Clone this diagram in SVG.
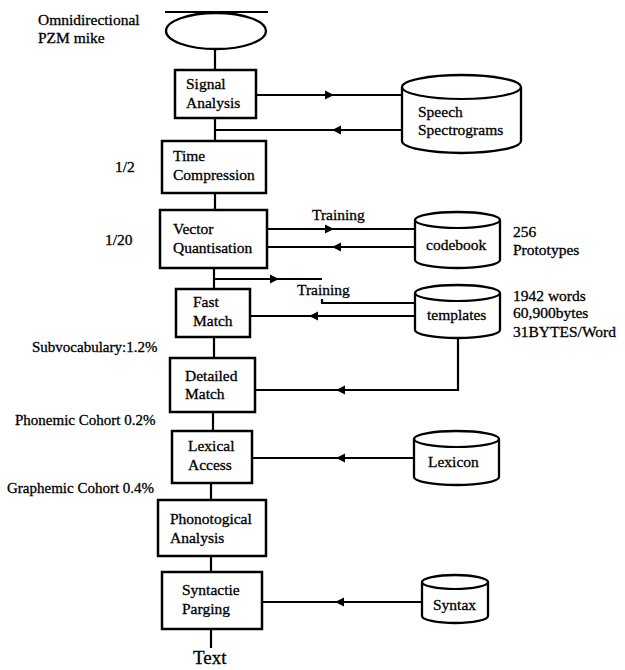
<svg xmlns="http://www.w3.org/2000/svg" width="625" height="670" viewBox="0 0 625 670">
  <style>
    .box { fill: #fff; stroke: #000; stroke-width: 2.5; }
    .db { fill: #fff; stroke: #000; stroke-width: 2.3; }
    .ln { fill: none; stroke: #000; stroke-width: 2.2; }
    text { font-family: "Liberation Serif", "Times New Roman", serif; font-size: 15.5px; fill: #000; stroke: #000; stroke-width: 0.3; }
    .note { font-size: 15px; }
  </style>
  <defs>
    <marker id="ah" viewBox="0 0 10 10" refX="9" refY="5" markerWidth="9" markerHeight="10" markerUnits="userSpaceOnUse" orient="auto">
      <path d="M0,0 L10,5 L0,10 Z" fill="#000" stroke="none"/>
    </marker>
  </defs>

  <rect width="625" height="670" fill="#fff"/>

  <!-- connectors -->
  <g id="connectors">
    <!-- main processing spine -->
    <path class="ln" d="M215,49 V70 M215,118 V141 M215,193 V210 M214,268 V289 M214,337 V358 M213,412 V431 M211,483 V500 M211,556 V572 M211,629 V648"/>
    <!-- signal analysis <-> spectrograms -->
    <path class="ln" d="M256,95 L333,95 L402,95" marker-mid="url(#ah)"/>
    <path class="ln" d="M402,130 L333,130 L215,130" marker-mid="url(#ah)"/>
    <!-- vector quantisation <-> codebook -->
    <path class="ln" d="M267,229 L333,229 L415,229" marker-mid="url(#ah)"/>
    <path class="ln" d="M415,247 L333,247 L267,247" marker-mid="url(#ah)"/>
    <!-- training feed to templates -->
    <path class="ln" d="M214,279 L278,279 L322,279" marker-mid="url(#ah)"/>
    <path class="ln" d="M322,299 V303 H415"/>
    <!-- templates -> fast match -->
    <path class="ln" d="M415,316 L310,316 L250,316" marker-mid="url(#ah)"/>
    <!-- templates -> detailed match -->
    <path class="ln" d="M458,338 V390 H337"/>
    <path class="ln" d="M338,390 L337,390 L255,390" marker-mid="url(#ah)"/>
    <!-- lexicon -> lexical access -->
    <path class="ln" d="M414,458 L337,458 L252,458" marker-mid="url(#ah)"/>
    <!-- syntax -> syntactic parsing -->
    <path class="ln" d="M422,602 L336,602 L262,602" marker-mid="url(#ah)"/>
  </g>

  <!-- microphone -->
  <g id="mike">
    <line class="ln" x1="165" y1="12" x2="268" y2="12"/>
    <ellipse class="db" cx="216" cy="31" rx="50" ry="18"/>
    <text x="38" y="25">Omnidirectional</text>
    <text x="38" y="43">PZM mike</text>
  </g>

  <g id="signal-analysis">
    <rect class="box" x="175" y="70" width="81" height="48"/>
    <text x="186" y="89">Signal</text>
    <text x="186" y="108">Analysis</text>
  </g>

  <g id="time-compression">
    <rect class="box" x="162" y="141" width="104" height="52"/>
    <text x="173" y="161">Time</text>
    <text x="173" y="180">Compression</text>
    <text x="115" y="172">1/2</text>
  </g>

  <g id="vector-quantisation">
    <rect class="box" x="160" y="210" width="107" height="58"/>
    <text x="173" y="234">Vector</text>
    <text x="173" y="253">Quantisation</text>
    <text x="105" y="245">1/20</text>
  </g>

  <g id="fast-match">
    <rect class="box" x="176" y="289" width="74" height="48"/>
    <text x="193" y="307">Fast</text>
    <text x="193" y="326">Match</text>
    <text class="note" x="32" y="352">Subvocabulary:1.2%</text>
  </g>

  <g id="detailed-match">
    <rect class="box" x="170" y="358" width="85" height="54"/>
    <text x="185" y="381">Detailed</text>
    <text x="185" y="399">Match</text>
    <text class="note" x="15" y="425">Phonemic Cohort 0.2%</text>
  </g>

  <g id="lexical-access">
    <rect class="box" x="172" y="431" width="80" height="52"/>
    <text x="188" y="451">Lexical</text>
    <text x="188" y="470">Access</text>
    <text class="note" x="7" y="493">Graphemic Cohort 0.4%</text>
  </g>

  <g id="phonological-analysis">
    <rect class="box" x="158" y="500" width="108" height="56"/>
    <text x="170" y="524">Phonotogical</text>
    <text x="170" y="543">Analysis</text>
  </g>

  <g id="syntactic-parsing">
    <rect class="box" x="162" y="572" width="100" height="57"/>
    <text x="182" y="595">Syntactie</text>
    <text x="182" y="614">Parging</text>
  </g>

  <g id="output-text">
    <text x="193" y="664" style="font-size:19px">Text</text>
  </g>

  <!-- stores -->
  <g id="speech-spectrograms">
    <path class="db" d="M402,87 V141 A59.5,12 0 0 0 521,141 V87 A59.5,12 0 0 0 402,87 Z"/>
    <path class="ln" d="M402,87 A59.5,12 0 0 0 521,87"/>
    <text x="418" y="117">Speech</text>
    <text x="418" y="135">Spectrograms</text>
  </g>

  <g id="codebook">
    <path class="db" d="M415,220 V260 A42.5,8 0 0 0 500,260 V220 A42.5,8 0 0 0 415,220 Z"/>
    <path class="ln" d="M415,220 A42.5,8 0 0 0 500,220"/>
    <text x="426" y="250">codebook</text>
    <text x="312" y="220">Training</text>
    <text x="513" y="237">256</text>
    <text x="513" y="255">Prototypes</text>
  </g>

  <g id="templates">
    <path class="db" d="M415,293 V330 A42.5,8 0 0 0 500,330 V293 A42.5,8 0 0 0 415,293 Z"/>
    <path class="ln" d="M415,293 A42.5,8 0 0 0 500,293"/>
    <text x="427" y="320">templates</text>
    <text x="297" y="295">Training</text>
    <text x="513" y="301">1942 words</text>
    <text x="513" y="318">60,900bytes</text>
    <text x="513" y="337">31BYTES/Word</text>
  </g>

  <g id="lexicon">
    <path class="db" d="M414,439 V477 A42.5,8 0 0 0 499,477 V439 A42.5,8 0 0 0 414,439 Z"/>
    <path class="ln" d="M414,439 A42.5,8 0 0 0 499,439"/>
    <text x="428" y="467">Lexicon</text>
  </g>

  <g id="syntax">
    <path class="db" d="M422,582 V616 A33,7 0 0 0 488,616 V582 A33,7 0 0 0 422,582 Z"/>
    <path class="ln" d="M422,582 A33,7 0 0 0 488,582"/>
    <text x="433" y="610">Syntax</text>
  </g>
</svg>
